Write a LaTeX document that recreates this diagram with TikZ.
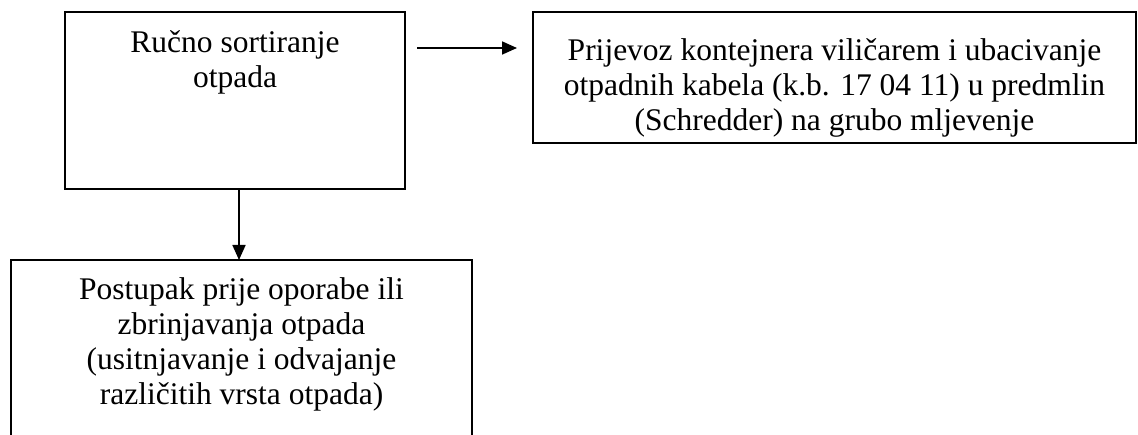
\documentclass[tikz,border=0pt]{standalone}
\usepackage{fontspec}
\setmainfont{Liberation Serif}
\usetikzlibrary{arrows.meta}
\begin{document}
\begin{tikzpicture}[x=1pt,y=1pt,
  box/.style={draw=black, line width=1.7pt, rectangle, inner sep=0pt, outer sep=0pt, anchor=north west},
  ln/.style={anchor=base, inner sep=0pt, font=\fontsize{31.5pt}{35pt}\selectfont},
  arr/.style={line width=1.7pt, -{Triangle[length=15pt,width=13pt]}}]
\useasboundingbox (0,0) rectangle (1138,-435);
\clip (0,0) rectangle (1138,-435);
\node[box, minimum width=340pt, minimum height=177pt] (b1) at (65,-12) {};
\node[box, minimum width=603pt, minimum height=131pt] (b2) at (533,-12) {};
\node[box, minimum width=461pt, minimum height=220pt] (b3) at (11,-260) {};
% box 1 text
\node[ln] (t11) at (235,-53) {Ručno sortiranje};
\node[ln] (t12) at (235,-88) {otpada};
% box 2 text
\node[ln] (t21) at (834.5,-61) {Prijevoz kontejnera viličarem i ubacivanje};
\node[ln] (t22) at (834.5,-96) {otpadnih kabela (k.b. 17 04 11) u predmlin};
\node[ln] (t23) at (834.5,-131) {(Schredder) na grubo mljevenje};
% box 3 text
\node[ln] (t31) at (241.5,-300) {Postupak prije oporabe ili};
\node[ln] (t32) at (241.5,-335) {zbrinjavanja otpada};
\node[ln] (t33) at (241.5,-370) {(usitnjavanje i odvajanje};
\node[ln] (t34) at (241.5,-405) {različitih vrsta otpada)};
\draw[arr, shorten <=12pt, shorten >=16pt] ([yshift=-36pt]b1.north east) -- ([yshift=-36pt]b2.north west);
\draw[arr] ([xshift=4pt]b1.south) -- ([xshift=4pt]b1.south |- b3.north);
\end{tikzpicture}
\end{document}
